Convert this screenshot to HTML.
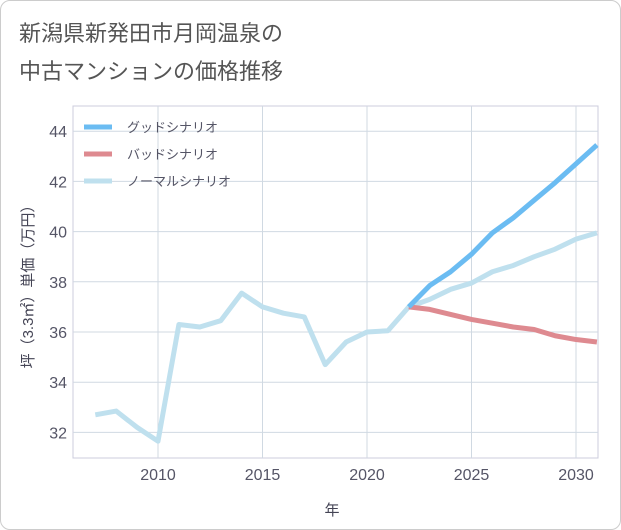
<!DOCTYPE html>
<html><head><meta charset="utf-8">
<style>
body{margin:0;background:#fff;}
.card{position:absolute;left:0;top:0;width:619px;height:528px;border:1px solid #ccc;border-radius:10px;background:#fff;overflow:hidden;}
text{font-family:"Liberation Sans","Noto Sans CJK JP",sans-serif;}
</style></head>
<body>
<div class="card">
<svg id="chart" width="621" height="530">
<text x="18" y="40" font-size="22" fill="#555">新潟県新発田市月岡温泉の</text>
<text x="18" y="78" font-size="22" fill="#555">中古マンションの価格推移</text>
<g id="grid"></g><g id="axes"></g><g id="series"></g><g id="legend"></g>
<text x="331" y="514" font-size="15" fill="#445" text-anchor="middle">年</text>
<text transform="translate(32,282) rotate(-90)" font-size="15" fill="#445" text-anchor="middle">坪（3.3㎡）単価（万円）</text>
</svg>
</div>
<script>
const years=[2007,2008,2009,2010,2011,2012,2013,2014,2015,2016,2017,2018,2019,2020,2021,2022,2023,2024,2025,2026,2027,2028,2029,2030,2031];
const normal=[32.7,32.85,32.2,31.65,36.3,36.2,36.45,37.55,37.0,36.75,36.6,34.7,35.6,36.0,36.05,37.0,37.3,37.7,37.95,38.4,38.65,39.0,39.3,39.7,39.95];
const futureYears=[2022,2023,2024,2025,2026,2027,2028,2029,2030,2031];
const good=[37.0,37.85,38.4,39.1,39.95,40.55,41.25,41.95,42.7,43.45];
const bad=[37.0,36.9,36.7,36.5,36.35,36.2,36.1,35.85,35.7,35.6];
const xTicks=[2010,2015,2020,2025,2030];
const yTicks=[32,34,36,38,40,42,44];
const L=72,R=597,T=105,B=457;
const X=v=>157+(v-2010)*20.9;
const Y=v=>331-(v-36)*25.1;
const NS="http://www.w3.org/2000/svg";
function mk(tag,attrs,parent){const e=document.createElementNS(NS,tag);for(const k in attrs)e.setAttribute(k,attrs[k]);parent.appendChild(e);return e;}
const grid=document.getElementById('grid'),axes=document.getElementById('axes'),ser=document.getElementById('series'),leg=document.getElementById('legend');
mk('rect',{x:L,y:T,width:R-L,height:B-T,fill:'none',stroke:'#ccd'},grid);
xTicks.forEach(t=>{const l=mk('line',{x1:X(t),x2:X(t),y1:T,y2:B,stroke:'#d0d9e2'},grid);});
yTicks.forEach(t=>{const l=mk('line',{x1:L,x2:R,y1:Y(t),y2:Y(t),stroke:'#d0d9e2'},grid);});
xTicks.forEach(t=>{const e=mk('text',{x:X(t),y:479,'font-size':16,fill:'#556','text-anchor':'middle'},axes);e.textContent=t;});
yTicks.forEach(t=>{const e=mk('text',{x:66,y:Y(t)+6,'font-size':16,fill:'#556','text-anchor':'end'},axes);e.textContent=t;});
function line(xs,vs,color,name){const p=mk('polyline',{points:xs.map((x,i)=>X(x)+','+Y(vs[i])).join(' '),fill:'none',stroke:color,'stroke-width':5,'stroke-linejoin':'round'},ser);}
line(years,normal,'#bfe0ee','normal-scenario-line');
line(futureYears,bad,'#de8a90','bad-scenario-line');
line(futureYears,good,'#6bbcf2','good-scenario-line');
[['グッドシナリオ','#6bbcf2'],['バッドシナリオ','#de8a90'],['ノーマルシナリオ','#bfe0ee']].forEach((d,i)=>{const y=126+i*27;const g=mk('g',{},leg);mk('line',{x1:83,x2:111,y1:y,y2:y,stroke:d[1],'stroke-width':5},g);const t=mk('text',{x:126,y:y+5,'font-size':13,fill:'#556'},g);t.textContent=d[0];});
</script>
</body></html>
